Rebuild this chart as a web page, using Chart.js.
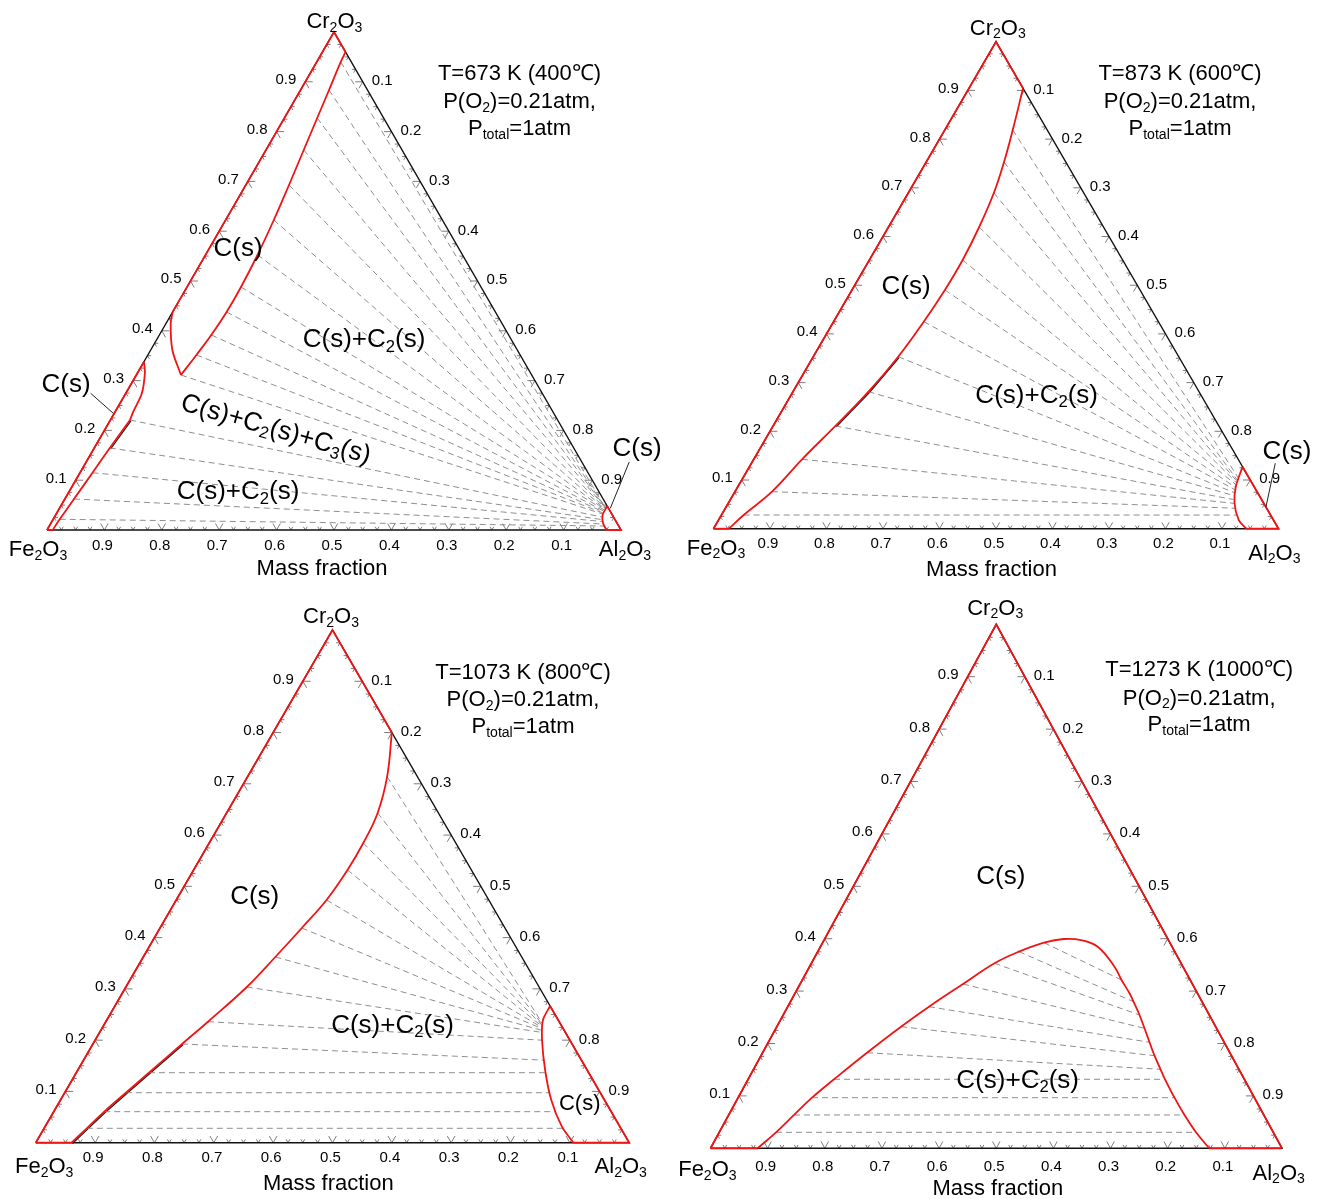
<!DOCTYPE html>
<html>
<head>
<meta charset="utf-8">
<title>Fe2O3–Cr2O3–Al2O3 isothermal sections</title>
<script src="https://cdn.jsdelivr.net/npm/chart.js@4.4.1/dist/chart.umd.min.js"></script>
<style>
  html, body { margin: 0; padding: 0; background: #ffffff; }
  #wrap { position: relative; width: 1318px; height: 1199px; overflow: hidden; background: #ffffff; }
  #wrap canvas { position: absolute; left: 0; top: 0; }
</style>
</head>
<body>
<div id="wrap">
  <canvas id="c673" width="1318" height="1199" style="width:1318px;height:1199px"></canvas>
  <canvas id="c873" width="1318" height="1199" style="width:1318px;height:1199px"></canvas>
  <canvas id="c1073" width="1318" height="1199" style="width:1318px;height:1199px"></canvas>
  <canvas id="c1273" width="1318" height="1199" style="width:1318px;height:1199px"></canvas>
</div>
<script>
// Every composition is a pair [Cr2O3, Al2O3] of mass fractions; Fe2O3 is the remainder.

// ---- axis graduation (same on the three edges) ----
const majorTicks = [0.1, 0.2, 0.3, 0.4, 0.5, 0.6, 0.7, 0.8, 0.9];
const majorTickLabels = ['0.1', '0.2', '0.3', '0.4', '0.5', '0.6', '0.7', '0.8', '0.9'];
const bottomTickLabels = ['0.9', '0.8', '0.7', '0.6', '0.5', '0.4', '0.3', '0.2', '0.1'];
const minorTicks = [0.025, 0.05, 0.075, 0.125, 0.15, 0.175, 0.225, 0.25, 0.275, 0.325, 0.35, 0.375,
                    0.425, 0.45, 0.475, 0.525, 0.55, 0.575, 0.625, 0.65, 0.675, 0.725, 0.75, 0.775,
                    0.825, 0.85, 0.875, 0.925, 0.95, 0.975];

const triangleFrame = [[0, 0], [0, 1], [1, 0], [0, 0]];

// ---- T = 673 K (400 °C) ----
const b673_upper = [[0.9598, 0.0402], [0.9398, 0.0419], [0.8835, 0.0496], [0.8273, 0.0571], [0.7631, 0.0657],
                    [0.6928, 0.0752], [0.6225, 0.0839], [0.5522, 0.0906], [0.4880, 0.0940], [0.4378, 0.0940],
                    [0.3916, 0.0904], [0.3514, 0.0846], [0.3112, 0.0778]];
const b673_cusp = [[0.3112, 0.0778], [0.361, 0.038], [0.415, 0.008], [0.438, 0]];
const b673_lowCrTop = [[0.338, 0], [0.315, 0.013], [0.2745, 0.028], [0.2376, 0.0315], [0.2209, 0.0342]];
const b673_lowCrSide = [[0.2209, 0.0342], [0.1647, 0.027], [0.115, 0.0218], [0.0622, 0.0159], [0.0215, 0.0114], [0, 0.0098]];
const b673_alCorner = [[0.048, 0.952], [0.03, 0.953], [0.0135, 0.962], [0, 0.975]];
const edges673 = [
  [[0, 0], [0.338, 0]],
  [[0.438, 0], [1, 0], [0.9598, 0.0402]],
  [[0, 0], [0, 0.0098]],
  [[0, 0.975], [0, 1], [0.048, 0.952]]
];
const tie673_from = [[0.9398, 0.0419], [0.8835, 0.0496], [0.8273, 0.0571], [0.7631, 0.0657], [0.6928, 0.0752],
                     [0.6225, 0.0839], [0.5522, 0.0906], [0.4880, 0.0940], [0.4378, 0.0940], [0.3916, 0.0904],
                     [0.3514, 0.0846], [0.3112, 0.0778],
                     [0.2209, 0.0342], [0.1647, 0.027], [0.115, 0.0218], [0.0622, 0.0159], [0.0215, 0.0114]];
const tie673_to = [[0.044, 0.951], [0.044, 0.951], [0.044, 0.951], [0.044, 0.951], [0.043, 0.951],
                   [0.042, 0.951], [0.041, 0.951], [0.040, 0.951], [0.038, 0.951], [0.036, 0.952],
                   [0.034, 0.952], [0.032, 0.952],
                   [0.026, 0.954], [0.021, 0.956], [0.017, 0.959], [0.012, 0.963], [0.008, 0.967]];
const dark673 = [[0.2209, 0.0342], [0.1647, 0.027]];

// ---- T = 873 K (600 °C) ----
const b873_main = [[0.9043, 0.0957], [0.8187, 0.1203], [0.7530, 0.1377], [0.6893, 0.1515], [0.6195, 0.1605],
                   [0.5517, 0.1651], [0.4901, 0.1645], [0.4251, 0.1596], [0.3532, 0.1503], [0.2813, 0.1337],
                   [0.2109, 0.1104], [0.1425, 0.0855], [0.0760, 0.0655], [0.0281, 0.0393], [0, 0.0274]];
const b873_alCorner = [[0.1273, 0.8727], [0.0862, 0.8813], [0.0522, 0.896], [0.0179, 0.9206], [0, 0.943]];
const edges873 = [
  [[0, 0], [1, 0], [0.9043, 0.0957]],
  [[0, 0], [0, 0.0274]],
  [[0, 0.943], [0, 1], [0.1273, 0.8727]]
];
const tie873_from = [[0.8187, 0.1203], [0.7530, 0.1377], [0.6893, 0.1515], [0.6195, 0.1605], [0.5517, 0.1651],
                     [0.4901, 0.1645], [0.4251, 0.1596], [0.3532, 0.1503], [0.2813, 0.1337], [0.2109, 0.1104],
                     [0.1425, 0.0855], [0.0760, 0.0655], [0.0281, 0.0393]];
const tie873_to = [[0.105, 0.876], [0.100, 0.877], [0.097, 0.878], [0.094, 0.879], [0.090, 0.880],
                   [0.085, 0.881], [0.080, 0.883], [0.074, 0.885], [0.068, 0.887], [0.060, 0.890],
                   [0.052, 0.896], [0.042, 0.903], [0.028, 0.912]];
const dark873 = [[0.3532, 0.1503], [0.2813, 0.1337], [0.2109, 0.1104]];

// ---- T = 1073 K (800 °C) ----
const b1073_main = [[0.8, 0.2], [0.7139, 0.2351], [0.6431, 0.2545], [0.5846, 0.2596], [0.5319, 0.2593],
                    [0.4734, 0.2532], [0.4188, 0.2389], [0.3622, 0.2225], [0.3037, 0.2038], [0.2360, 0.1722],
                    [0.1925, 0.1502], [0.1365, 0.1224], [0.0975, 0.1031], [0.0605, 0.0851], [0.0281, 0.0719],
                    [0, 0.0603]];
const b1073_alCorner = [[0.2666, 0.7334], [0.2393, 0.735], [0.2003, 0.753], [0.1418, 0.7874],
                        [0.0833, 0.827], [0.0312, 0.871], [0, 0.906]];
const edges1073 = [
  [[0, 0], [1, 0], [0.8, 0.2]],
  [[0, 0], [0, 0.0603]],
  [[0, 0.906], [0, 1], [0.2666, 0.7334]]
];
const tie1073_from = [[0.7139, 0.2351], [0.6431, 0.2545], [0.5846, 0.2596], [0.5319, 0.2593], [0.4734, 0.2532],
                      [0.4188, 0.2389], [0.3622, 0.2225], [0.3037, 0.2038], [0.2360, 0.1722], [0.1925, 0.1502],
                      [0.1365, 0.1224], [0.0975, 0.1031], [0.0605, 0.0851], [0.0281, 0.0719]];
const tie1073_to = [[0.232, 0.738], [0.230, 0.739], [0.228, 0.740], [0.226, 0.741], [0.224, 0.742],
                    [0.222, 0.743], [0.219, 0.744], [0.215, 0.746], [0.200, 0.753], [0.161, 0.776],
                    [0.1365, 0.791], [0.0975, 0.817], [0.0605, 0.846], [0.0281, 0.874]];
const dark1073 = [[0.1925, 0.1502], [0.1365, 0.1224], [0.0975, 0.1031], [0.0605, 0.0851], [0.0281, 0.0719], [0, 0.0603]];

// ---- T = 1273 K (1000 °C) ----
const b1273_dome = [[0, 0.0824], [0.0305, 0.0994], [0.0636, 0.1143], [0.0966, 0.1293], [0.1317, 0.1503],
                    [0.1824, 0.1826], [0.2321, 0.2173], [0.2702, 0.2472], [0.3135, 0.2851], [0.3531, 0.3204],
                    [0.3752, 0.3522], [0.3924, 0.3874], [0.3994, 0.4188], [0.3975, 0.4496], [0.3847, 0.4852],
                    [0.3466, 0.5336], [0.3212, 0.5586], [0.2958, 0.5853], [0.2798, 0.6003], [0.2544, 0.6235],
                    [0.2290, 0.6449], [0.2023, 0.6671], [0.1767, 0.6886], [0.1508, 0.7120], [0.1317, 0.7295],
                    [0.0966, 0.7636], [0.0636, 0.7976], [0.0305, 0.8343], [0, 0.8726]];
const edges1273 = [
  [[0, 0], [1, 0], [0, 1]],
  [[0, 0], [0, 0.0824]],
  [[0, 0.8726], [0, 1]]
];
const tie1273_from = [[0.3924, 0.3874], [0.3752, 0.3522], [0.3531, 0.3204], [0.3135, 0.2851], [0.2702, 0.2472],
                      [0.2321, 0.2173], [0.1824, 0.1826], [0.1317, 0.1503], [0.0966, 0.1293], [0.0636, 0.1143],
                      [0.0305, 0.0994]];
const tie1273_to = [[0.3212, 0.5586], [0.2798, 0.6003], [0.2544, 0.6235], [0.2290, 0.6449], [0.2023, 0.6671],
                    [0.1767, 0.6886], [0.1508, 0.7120], [0.1317, 0.7295], [0.0966, 0.7636], [0.0636, 0.7976],
                    [0.0305, 0.8343]];

// ---- drawing helpers ----
const FONT = "'Liberation Sans', Arial, Helvetica, sans-serif";
const RED = '#f01414';

// [Cr2O3, Al2O3] -> plane: x runs Fe2O3 -> Al2O3 along the base, y is the Cr2O3 height
function toXY(p) { return { x: p[1] + p[0] / 2, y: p[0] }; }

function lineSet(points, color, width, order, extra) {
  return Object.assign({
    data: points.map(toXY),
    showLine: true,
    borderColor: color,
    borderWidth: width,
    pointRadius: 0,
    pointHoverRadius: 0,
    fill: false,
    tension: 0,
    capBezierPoints: false,
    order: order,
    clip: false,
    borderJoinStyle: 'round',
    borderCapStyle: 'butt'
  }, extra || {});
}

function richParts(s) {
  const out = [];
  const re = /\{([^}]*)\}/g;
  let last = 0, m;
  while ((m = re.exec(s))) {
    if (m.index > last) out.push([s.slice(last, m.index), false]);
    out.push([m[1], true]);
    last = re.lastIndex;
  }
  if (last < s.length) out.push([s.slice(last), false]);
  return out;
}

// y is the vertical middle of the capitals
function drawRich(ctx, s, x, y, size, align) {
  const parts = richParts(s);
  const sub = size * 0.64;
  const widths = parts.map(([t, isSub]) => {
    ctx.font = (isSub ? sub : size) + 'px ' + FONT;
    return ctx.measureText(t).width;
  });
  const total = widths.reduce((a, b) => a + b, 0);
  let cx = align === 'right' ? x - total : align === 'left' ? x : x - total / 2;
  const base = y + size * 0.36;
  ctx.textAlign = 'left';
  ctx.textBaseline = 'alphabetic';
  parts.forEach(([t, isSub], i) => {
    ctx.font = (isSub ? sub : size) + 'px ' + FONT;
    ctx.fillText(t, cx, isSub ? base + size * 0.17 : base);
    cx += widths[i];
  });
}

const ternaryDecor = {
  id: 'ternaryDecor',
  beforeDatasetsDraw(chart, args, opts) {
    const { ctx } = chart;
    const X = chart.scales.x, Y = chart.scales.y;
    const P = (xn, yn) => [X.getPixelForValue(xn), Y.getPixelForValue(yn)];
    const seg = (x0, y0, dx, dy) => {
      const a = P(x0, y0), b = P(x0 + dx, y0 + dy);
      ctx.moveTo(a[0], a[1]);
      ctx.lineTo(b[0], b[1]);
    };
    ctx.save();
    ctx.strokeStyle = '#7d7d7d';
    ctx.lineWidth = 1;
    ctx.beginPath();
    const marks = majorTicks.map(t => [t, 0.013]).concat(minorTicks.map(t => [t, 0.0065]));
    for (const [t, L] of marks) {
      // base: Al2O3 fraction t
      seg(t, 0, 0.5 * L, L);
      seg(t, 0, -0.5 * L, L);
      // left edge: Cr2O3 fraction t
      seg(t / 2, t, L, 0);
      seg(t / 2, t, 0.5 * L, -L);
      // right edge: Al2O3 fraction t
      const c = 1 - t;
      seg(t + c / 2, c, -L, 0);
      seg(t + c / 2, c, -0.5 * L, -L);
    }
    ctx.stroke();

    // dark limiting line running just inside the two-phase side of a boundary
    if (opts.dark) {
      ctx.strokeStyle = '#1a1a1a';
      ctx.lineWidth = 1.2;
      ctx.lineJoin = 'round';
      ctx.beginPath();
      opts.dark.forEach((p, i) => {
        const q = toXY(p);
        const px = P(q.x, q.y);
        if (i === 0) ctx.moveTo(px[0] + 0.9, px[1] + 0.8);
        else ctx.lineTo(px[0] + 0.9, px[1] + 0.8);
      });
      ctx.stroke();
    }
    ctx.restore();
  },
  afterDatasetsDraw(chart, args, opts) {
    const { ctx } = chart;
    const X = chart.scales.x, Y = chart.scales.y;
    const P = (xn, yn) => [X.getPixelForValue(xn), Y.getPixelForValue(yn)];
    ctx.save();
    ctx.fillStyle = '#000';

    // edge graduations
    majorTicks.forEach((t, i) => {
      const l = P(t / 2, t);
      drawRich(ctx, majorTickLabels[i], l[0] - 9, l[1] - 3, 15, 'right');
      const c = 1 - t;
      const r = P(t + c / 2, c);
      drawRich(ctx, majorTickLabels[i], r[0] + 9, r[1] - 2, 15, 'left');
      const b = P(t, 0);
      drawRich(ctx, bottomTickLabels[i], b[0] - 2, b[1] + opts.bottomGap, 15, 'center');
    });

    // leader lines
    ctx.strokeStyle = '#222';
    ctx.lineWidth = 1;
    (opts.leaders || []).forEach(([a, b]) => {
      const p = P(a[0], a[1]), q = P(b[0], b[1]);
      ctx.beginPath();
      ctx.moveTo(p[0], p[1]);
      ctx.lineTo(q[0], q[1]);
      ctx.stroke();
    });

    // text
    (opts.texts || []).forEach(tx => {
      const p = P(tx.x, tx.y);
      if (tx.rot) {
        ctx.save();
        ctx.translate(p[0], p[1]);
        ctx.rotate(tx.rot * Math.PI / 180);
        drawRich(ctx, tx.t, 0, 0, tx.size, 'center');
        ctx.restore();
      } else {
        drawRich(ctx, tx.t, p[0], p[1], tx.size, 'center');
      }
    });
    ctx.restore();
  }
};

function tieSets(from, to) {
  return from.map((p, i) => lineSet([p, to[i]], '#8e8e8e', 1, 5, { borderDash: [6, 4] }));
}
function edgeSets(list) {
  return list.map(seg => lineSet(seg, RED, 1.8, 1, { borderJoinStyle: 'miter' }));
}
function curveSet(points, tension) {
  return lineSet(points, RED, 1.8, 1, { tension: tension });
}

function titleTexts(x, ys, t) {
  return [
    { t: t, x: x, y: ys[0], size: 22 },
    { t: 'P(O{2})=0.21atm,', x: x, y: ys[1], size: 22 },
    { t: 'P{total}=1atm', x: x, y: ys[2], size: 22 }
  ];
}
function cornerTexts(c) {
  return [
    { t: 'Cr{2}O{3}', x: c.cr[0], y: c.cr[1], size: 22 },
    { t: 'Fe{2}O{3}', x: c.fe[0], y: c.fe[1], size: 22 },
    { t: 'Al{2}O{3}', x: c.al[0], y: c.al[1], size: 22 },
    { t: 'Mass fraction', x: c.mf[0], y: c.mf[1], size: 22 }
  ];
}

const panels = [
  {
    id: 'c673',
    box: { left: 47, top: 32, width: 574, height: 498 },
    bottomGap: 15,
    dark: dark673,
    datasets: [
      curveSet(b673_upper, 0.4), curveSet(b673_cusp, 0.3), curveSet(b673_lowCrTop, 0.3),
      curveSet(b673_lowCrSide, 0.2), curveSet(b673_alCorner, 0.3)
    ].concat(edgeSets(edges673)).concat(tieSets(tie673_from, tie673_to)),
    texts: cornerTexts({ cr: [0.5007, 1.0241], fe: [-0.0157, -0.0367], al: [1.007, -0.0367], mf: [0.4791, -0.0737] })
      .concat(titleTexts(0.8232, [0.9197, 0.8635, 0.8092], 'T=673 K (400\u2103)'))
      .concat([
        { t: 'C(s)', x: 0.3328, y: 0.5683, size: 26 },
        { t: 'C(s)+C{2}(s)', x: 0.5523, y: 0.3855, size: 26 },
        { t: 'C(s)+C{2}(s)+C{3}(s)', x: 0.3995, y: 0.2058, size: 26, rot: 16 },
        { t: 'C(s)+C{2}(s)', x: 0.3328, y: 0.0803, size: 26 },
        { t: 'C(s)', x: 0.0331, y: 0.2952, size: 26 },
        { t: 'C(s)', x: 1.0279, y: 0.1667, size: 26 }
      ]),
    leaders: [[[0.0761, 0.2745], [0.1155, 0.2343]], [[1.0143, 0.1365], [0.9814, 0.0436]]]
  },
  {
    id: 'c873',
    box: { left: 713.5, top: 41.7, width: 565, height: 487 },
    bottomGap: 14,
    dark: dark873,
    datasets: [curveSet(b873_main, 0.4), curveSet(b873_alCorner, 0.3)]
      .concat(edgeSets(edges873)).concat(tieSets(tie873_from, tie873_to)),
    texts: cornerTexts({ cr: [0.5032, 1.0308], fe: [0.0044, -0.037], al: [0.9927, -0.0472], mf: [0.492, -0.0813] })
      .concat(titleTexts(0.8257, [0.9378, 0.8803, 0.8248], 'T=873 K (600\u2103)'))
      .concat([
        { t: 'C(s)', x: 0.3407, y: 0.5004, size: 26 },
        { t: 'C(s)+C{2}(s)', x: 0.572, y: 0.278, size: 26 },
        { t: 'C(s)', x: 1.015, y: 0.1616, size: 26 }
      ]),
    leaders: [[[0.9943, 0.1343], [0.9779, 0.0452]]]
  },
  {
    id: 'c1073',
    box: { left: 35.8, top: 630, width: 593.4, height: 512.7 },
    bottomGap: 14,
    dark: dark1073,
    datasets: [curveSet(b1073_main, 0.4), curveSet(b1073_alCorner, 0.3)]
      .concat(edgeSets(edges1073)).concat(tieSets(tie1073_from, tie1073_to)),
    texts: cornerTexts({ cr: [0.4975, 1.0293], fe: [0.0142, -0.0435], al: [0.9858, -0.0435], mf: [0.4929, -0.0761] })
      .concat(titleTexts(0.821, [0.92, 0.8673, 0.8147], 'T=1073 K (800\u2103)'))
      .concat([
        { t: 'C(s)', x: 0.3689, y: 0.4831, size: 26 },
        { t: 'C(s)+C{2}(s)', x: 0.6011, y: 0.2329, size: 26 },
        { t: 'C(s)', x: 0.9166, y: 0.08, size: 22 }
      ]),
    leaders: []
  },
  {
    id: 'c1273',
    box: { left: 710.5, top: 624.3, width: 571.5, height: 524 },
    bottomGap: 17,
    dark: null,
    datasets: [curveSet(b1273_dome, 0.4)]
      .concat(edgeSets(edges1273)).concat(tieSets(tie1273_from, tie1273_to)),
    texts: cornerTexts({ cr: [0.4982, 1.0336], fe: [-0.0054, -0.0382], al: [0.9942, -0.0447], mf: [0.5027, -0.0733] })
      .concat(titleTexts(0.855, [0.9166, 0.8618, 0.8116], 'T=1273 K (1000\u2103)'))
      .concat([
        { t: 'C(s)', x: 0.5081, y: 0.5216, size: 26 },
        { t: 'C(s)+C{2}(s)', x: 0.5375, y: 0.1336, size: 26 }
      ]),
    leaders: []
  }
];

const PAGE_W = 1318, PAGE_H = 1199;

panels.forEach(pn => {
  const b = pn.box;
  const frame = lineSet(triangleFrame, '#111111', 1.4, 3, { borderJoinStyle: 'miter' });
  new Chart(document.getElementById(pn.id), {
    type: 'scatter',
    data: { datasets: [frame].concat(pn.datasets) },
    options: {
      responsive: false,
      maintainAspectRatio: false,
      animation: false,
      devicePixelRatio: 1,
      events: [],
      layout: {
        padding: {
          left: b.left,
          top: b.top,
          right: PAGE_W - b.left - b.width,
          bottom: PAGE_H - b.top - b.height
        }
      },
      scales: {
        x: { type: 'linear', min: 0, max: 1, display: false },
        y: { type: 'linear', min: 0, max: 1, display: false }
      },
      plugins: {
        legend: { display: false },
        tooltip: { enabled: false },
        ternaryDecor: { texts: pn.texts, leaders: pn.leaders, bottomGap: pn.bottomGap, dark: pn.dark }
      }
    },
    plugins: [ternaryDecor]
  });
});
</script>
</body>
</html>
